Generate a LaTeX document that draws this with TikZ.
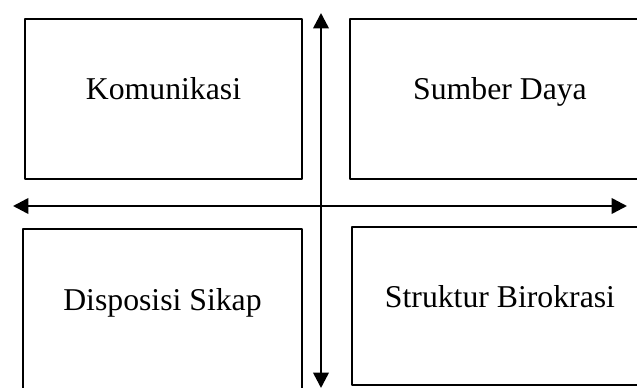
\documentclass[tikz,border=0pt]{standalone}
\usepackage{fontspec}
\setmainfont{Liberation Serif}
\usetikzlibrary{arrows.meta}
\tikzset{
  kotak/.style={draw, line width=0.8pt, inner sep=0pt},
  teks/.style={anchor=base, font=\fontsize{23.8}{28}\selectfont},
  panah/.style={line width=1.9pt, {Triangle[length=11.5pt,width=11.5pt]}-{Triangle[length=11.5pt,width=11.5pt]}}
}
\begin{document}
\begin{tikzpicture}[x=0.75pt, y=0.75pt, line join=round]
            \useasboundingbox (0,0) rectangle (637,387);
            \clip (0,0) rectangle (637,387);
            % kotak
            \node[kotak, minimum width=277*0.75pt, minimum height=160*0.75pt] (kom) at (163.5,288) {};
            \node[kotak, minimum width=300*0.75pt, minimum height=160*0.75pt] (sum) at (500,288) {};
            \node[kotak, minimum width=279*0.75pt, minimum height=170*0.75pt] (dis) at (162.5,73) {};
            \node[kotak, minimum width=298*0.75pt, minimum height=158*0.75pt] (str) at (501,81) {};
            % teks
            \node[teks] (komt) at (163.5,288) {Komunikasi};
            \node[teks] (sumt) at (500,288) {Sumber Daya};
            \node[teks] (dist) at (162.5,77) {Disposisi Sikap};
            \node[teks] (strt) at (500,80) {Struktur Birokrasi};
            % panah
            \coordinate (kiri) at (13,181);
            \coordinate (kanan) at (627,181);
            \coordinate (atas) at (321,374);
            \coordinate (bawah) at (321,-1);
            \draw[panah] (kiri) -- (kanan);
            \draw[panah] (bawah) -- (atas);
        \end{tikzpicture}
\end{document}
